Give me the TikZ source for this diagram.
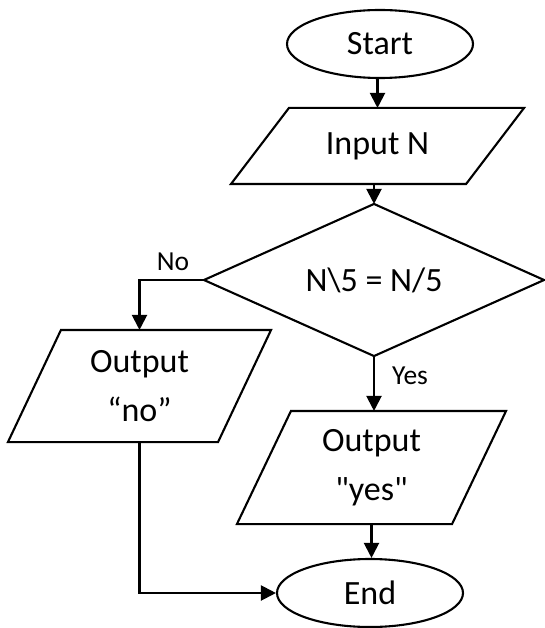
\documentclass[tikz,border=0pt]{standalone}
\usepackage{fontspec}
\setmainfont{Carlito}
% Carlito loaded without any TeX mapping, so that " stays a straight quote
\font\rawcarlito="Carlito" at 34pt
\usetikzlibrary{shapes.geometric,arrows.meta,calc}

\begin{document}
\begin{tikzpicture}[x=1pt,y=-1pt,line width=2.1pt,
  every node/.style={inner sep=0pt},
  mainfont/.style={font=\fontsize{34}{49}\selectfont},
  term/.style={ellipse,draw,mainfont,minimum width=186pt,minimum height=68pt},
  iobox/.style={mainfont,align=center},
  lbl/.style={font=\fontsize{27.5}{32}\selectfont},
  arr/.style={-{Triangle[length=15pt,width=15pt]}}
]
\useasboundingbox (0,0) rectangle (544,628);

% terminals
\node[term] (start) at (380,44) {Start};
\node[term] (stop) at (370,593) {End};

% decision: bounding box of the diamond
\node[mainfont,minimum width=338pt,minimum height=150pt] (test) at (374,280) {N\textbackslash 5 = N/5};
\draw (test.north) -- (test.east) -- (test.south) -- (test.west) -- cycle;

% input / output boxes (bounding box of each parallelogram)
\node[iobox,minimum width=291pt,minimum height=74pt] (inp) at (377.5,146) {Input N};
\node[iobox,minimum width=261pt,minimum height=110pt] (outno) at (139.5,386) {Output\\“no”};
\node[iobox,minimum width=267pt,minimum height=111pt] (outyes) at (371.5,467.5) {Output\\{\rawcarlito "yes"}};

% parallelogram outlines
\draw ($(inp.north west)+(58,0)$) -- (inp.north east) -- ($(inp.south east)-(58,0)$) -- (inp.south west) -- cycle;
\draw ($(outno.north west)+(53,0)$) -- (outno.north east) -- ($(outno.south east)-(53,0)$) -- (outno.south west) -- cycle;
\draw ($(outyes.north west)+(54,0)$) -- (outyes.north east) -- ($(outyes.south east)-(54,0)$) -- (outyes.south west) -- cycle;

% connectors
\draw[arr] (start.south -| inp.north) -- (inp.north);
\draw[arr] (inp.south -| test.north) -- (test.north);
\draw[arr] (test.west) -| (outno.north);
\draw[arr] (test.south) -- (test.south |- outyes.north);
\draw[arr] (outyes.south) -- (outyes.south |- stop.north);
\draw[arr] (outno.south) |- (stop.west);

% branch labels
\node[lbl] (nolbl) at (173,262) {No};
\node[lbl] (yeslbl) at (410,376) {Yes};
\end{tikzpicture}
\end{document}
